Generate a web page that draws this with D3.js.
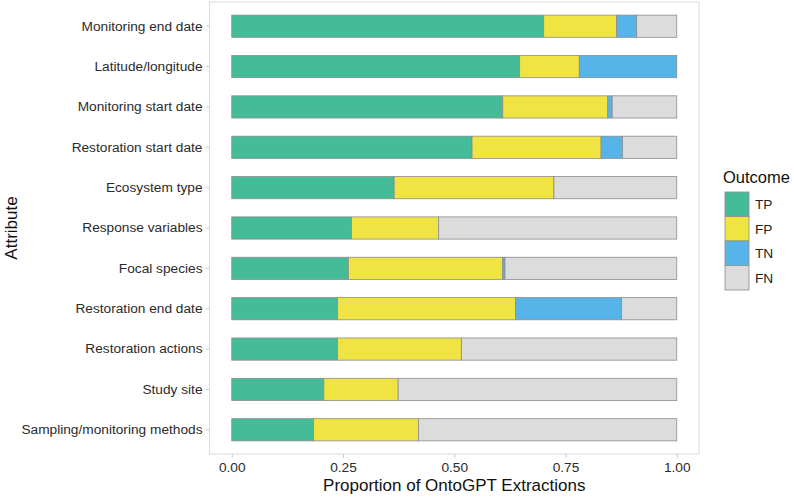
<!DOCTYPE html>
<html>
<head>
<meta charset="utf-8">
<script src="https://cdn.jsdelivr.net/npm/d3@7"></script>
<style>
  body { margin: 0; background: #fff; }
  svg { font-family: "Liberation Sans", Arial, sans-serif; }
</style>
</head>
<body>
<svg id="chart" width="794" height="497"></svg>
<script>
/*** DATA ***/
var attributes = ["Monitoring end date", "Latitude/longitude", "Monitoring start date",
  "Restoration start date", "Ecosystem type", "Response variables", "Focal species",
  "Restoration end date", "Restoration actions", "Study site", "Sampling/monitoring methods"];
var outcomes = ["TP", "FP", "TN", "FN"];
var tpValues = [0.701, 0.647, 0.609, 0.540, 0.365, 0.269, 0.262, 0.238, 0.238, 0.207, 0.184];
var fpValues = [0.164, 0.134, 0.236, 0.290, 0.359, 0.196, 0.347, 0.400, 0.278, 0.167, 0.236];
var tnValues = [0.045, 0.219, 0.010, 0.048, 0.000, 0.000, 0.005, 0.238, 0.000, 0.000, 0.000];
var fnValues = [0.090, 0.000, 0.145, 0.122, 0.276, 0.535, 0.386, 0.124, 0.484, 0.626, 0.580];
var xTicks = [0, 0.25, 0.5, 0.75, 1];

var colors = {TP: "#44BC98", FP: "#F0E442", TN: "#56B4E9", FN: "#DCDCDC"};

/*** LAYOUT ***/
var panel = {left: 209.5, right: 699, top: 2, bottom: 454};
var svg = d3.select("#chart");

var rows = attributes.map((a, i) => ({
  attribute: a, TP: tpValues[i], FP: fpValues[i], TN: tnValues[i], FN: fnValues[i]
}));
var series = d3.stack().keys(outcomes)(rows);

var x = d3.scaleLinear().domain([-0.05, 1.05]).range([panel.left, panel.right]);
var y = d3.scaleBand()
  .domain(attributes)
  .range([panel.top, panel.bottom])
  .paddingInner(0.45)
  .paddingOuter(0.325);

// panel border
svg.append("rect")
  .attr("x", panel.left).attr("y", panel.top)
  .attr("width", panel.right - panel.left).attr("height", panel.bottom - panel.top)
  .attr("fill", "none").attr("stroke", "#d9d9d9").attr("stroke-width", 1);

// bars
svg.append("g").selectAll("g").data(series).enter()
  .append("g").attr("fill", d => colors[d.key])
  .selectAll("rect").data(d => d.filter(s => s[1] - s[0] > 0)).enter()
  .append("rect")
    .attr("x", d => x(d[0]))
    .attr("y", d => y(d.data.attribute))
    .attr("width", d => x(d[1]) - x(d[0]))
    .attr("height", y.bandwidth())
    .attr("stroke", "#8c8c8c")
    .attr("stroke-width", 0.8);

// y axis
var yAxis = svg.append("g")
  .attr("transform", "translate(" + panel.left + ",0)")
  .call(d3.axisLeft(y).tickSize(4).tickPadding(3));
yAxis.select(".domain").remove();
yAxis.selectAll("line").attr("stroke", "#cfcfcf");
yAxis.selectAll("text").attr("font-size", "13.7px").attr("fill", "#2b2b2b")
  .attr("font-family", "Liberation Sans, Arial, sans-serif");

// x axis
var xAxis = svg.append("g")
  .attr("transform", "translate(0," + panel.bottom + ")")
  .call(d3.axisBottom(x).tickValues(xTicks).tickFormat(d3.format(".2f")).tickSize(4).tickPadding(4));
xAxis.select(".domain").remove();
xAxis.selectAll("line").attr("stroke", "#cfcfcf");
xAxis.selectAll("text").attr("font-size", "13.7px").attr("fill", "#2b2b2b")
  .attr("font-family", "Liberation Sans, Arial, sans-serif");

// titles
svg.append("text")
  .attr("x", (panel.left + panel.right) / 2).attr("y", 491)
  .attr("text-anchor", "middle").attr("font-size", "17px").attr("fill", "#111")
  .text("Proportion of OntoGPT Extractions");
svg.append("text")
  .attr("transform", "translate(17," + ((panel.top + panel.bottom) / 2) + ") rotate(-90)")
  .attr("text-anchor", "middle").attr("font-size", "17px").attr("fill", "#111")
  .text("Attribute");

// legend
var legend = svg.append("g").attr("transform", "translate(725,0)");
legend.append("text").attr("x", -2).attr("y", 183)
  .attr("font-size", "16.5px").attr("fill", "#111").text("Outcome");
var keys = legend.selectAll("g.key").data(outcomes).enter()
  .append("g").attr("class", "key")
  .attr("transform", (d, i) => "translate(0," + (192 + i * 24.5) + ")");
keys.append("rect")
  .attr("width", 24).attr("height", 24.5)
  .attr("fill", d => colors[d]).attr("stroke", "#8c8c8c").attr("stroke-width", 0.8);
keys.append("text")
  .attr("x", 30).attr("y", 12.25).attr("dy", "0.35em")
  .attr("font-size", "13.7px").attr("fill", "#222").text(d => d);
</script>
</body>
</html>
